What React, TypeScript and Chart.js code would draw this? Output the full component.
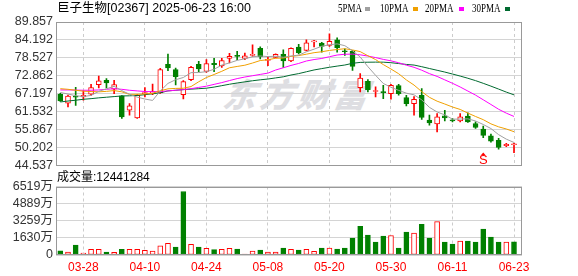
import React, { useEffect, useRef } from 'react';
import { Chart, registerables } from 'chart.js';
Chart.register(...registerables);

// ---------- data ----------
const dates = [
  '03-25', '03-26', '03-27', '03-28', '03-31', '04-01', '04-02', '04-03', '04-07', '04-08',
  '04-09', '04-10', '04-11', '04-14', '04-15', '04-16', '04-17', '04-22', '04-23', '04-24',
  '04-25', '04-28', '04-29', '04-30', '05-02', '05-06', '05-07', '05-08', '05-09', '05-12',
  '05-13', '05-14', '05-15', '05-16', '05-19', '05-20', '05-21', '05-22', '05-23', '05-26',
  '05-27', '05-28', '05-29', '05-30', '06-02', '06-03', '06-04', '06-05', '06-06', '06-09',
  '06-10', '06-11', '06-12', '06-13', '06-16', '06-17', '06-18', '06-19', '06-20', '06-23',
];
const dateLabelIndex = [3, 11, 19, 27, 35, 43, 51, 59];
const priceTicks = [44.537, 50.202, 55.867, 61.532, 67.197, 72.862, 78.527, 84.192, 89.857];

const opens = [
  67.04, 64.2, 66.4, 66.2, 67.04, 70.08, 71.45, 68.61, 66.51, 62.0,
  59.59, 67.25, 67.14, 67.46, 76.48, 74.8, 66.93, 71.66, 76.48, 74.28,
  76.8, 75.96, 78.37, 79.21, 78.37, 79.31, 81.52, 77.74, 78.68, 79.63,
  77.53, 81.9, 80.9, 83.6, 83.2, 82.46, 84.24, 80.68, 80.57, 69.14,
  71.13, 67.9, 67.77, 67.25, 69.77, 65.99, 64.1, 66.72, 58.86, 57.7,
  60.22, 58.96, 58.65, 60.11, 57.81, 56.02, 53.92, 52.45, 50.8, 51.1,
];
const highs = [
  67.3, 66.8, 69.2, 68.1, 70.2, 72.8, 72.0, 71.45, 66.6, 64.1,
  66.93, 69.14, 70.29, 75.22, 79.73, 75.33, 71.34, 75.85, 77.43, 77.95,
  78.37, 78.37, 80.0, 80.57, 80.05, 82.67, 82.04, 78.89, 79.84, 81.1,
  81.7, 82.8, 84.2, 84.1, 83.4, 86.13, 84.87, 81.41, 80.89, 73.54,
  71.65, 69.35, 69.87, 70.19, 70.19, 66.72, 66.3, 68.82, 60.43, 60.95,
  62.0, 59.38, 60.95, 61.16, 58.33, 56.97, 54.45, 53.08, 51.51, 51.5,
];
const lows = [
  64.8, 63.0, 63.5, 65.15, 66.7, 69.0, 69.0, 67.25, 59.38, 60.43,
  59.38, 66.2, 66.9, 67.3, 74.49, 69.98, 65.57, 71.34, 74.17, 73.96,
  74.17, 75.54, 76.9, 77.95, 77.95, 79.0, 78.16, 76.06, 78.5, 75.54,
  77.3, 79.8, 80.7, 82.0, 80.36, 82.15, 80.36, 79.31, 74.59, 67.77,
  67.77, 66.2, 65.67, 65.46, 66.72, 63.37, 60.4, 59.06, 57.28, 55.18,
  58.65, 58.33, 58.33, 58.12, 56.23, 53.29, 51.93, 49.73, 50.46, 48.6,
];
const closes = [
  64.94, 66.5, 66.1, 66.72, 69.14, 71.24, 70.6, 70.08, 59.9, 63.37,
  66.72, 67.56, 67.88, 74.8, 75.33, 72.6, 71.03, 75.54, 75.01, 76.69,
  76.38, 77.64, 78.99, 79.0, 79.21, 79.52, 78.89, 78.05, 79.63, 77.53,
  81.52, 80.2, 83.3, 83.85, 82.15, 83.72, 81.73, 80.47, 75.85, 72.18,
  68.51, 68.1, 67.56, 69.87, 67.25, 64.1, 65.46, 59.69, 58.02, 59.9,
  59.59, 58.65, 59.9, 58.33, 56.55, 54.03, 52.25, 50.25, 51.2, 51.3,
];

const ma5 = [
  67.6, 67.1, 66.6, 66.3, 66.68, 67.94, 68.76, 69.56, 68.19, 67.04,
  66.13, 65.53, 65.09, 68.07, 70.46, 71.63, 72.33, 73.86, 73.9, 74.17,
  74.93, 76.25, 76.94, 77.74, 78.24, 78.87, 79.12, 78.93, 79.06, 78.72,
  79.12, 79.39, 80.44, 81.28, 82.2, 82.64, 82.95, 82.38, 80.78, 78.79,
  75.75, 73.02, 70.44, 69.24, 68.26, 67.38, 66.85, 65.27, 62.9, 61.43,
  60.53, 59.17, 59.21, 59.27, 58.6, 57.49, 56.21, 54.28, 52.86, 51.81,
];
const ma10 = [
  68.8, 68.6, 68.3, 68.0, 67.9, 67.8, 67.95, 68.2, 67.8, 67.0,
  67.04, 67.14, 67.32, 68.13, 68.75, 68.88, 68.93, 69.47, 70.98, 72.32,
  73.28, 74.29, 75.4, 75.82, 76.21, 76.9, 77.69, 77.94, 78.4, 78.48,
  79.0, 79.25, 79.69, 80.17, 80.46, 80.88, 81.17, 81.41, 81.03, 80.5,
  79.2, 77.99, 76.41, 75.01, 73.52, 71.56, 69.94, 67.86, 66.07, 64.85,
  63.95, 63.01, 62.24, 61.09, 60.02, 59.01, 57.69, 56.75, 56.07, 55.21,
];
const ma20 = [
  68.4, 68.4, 68.35, 68.3, 68.3, 68.4, 68.6, 68.8, 68.6, 68.3,
  68.1, 67.9, 67.85, 67.9, 68.1, 68.3, 68.5, 68.8, 69.2, 69.59,
  70.16, 70.72, 71.36, 71.98, 72.48, 72.89, 73.31, 73.71, 74.69, 75.4,
  76.14, 76.77, 77.54, 78.0, 78.34, 78.89, 79.43, 79.67, 79.72, 79.49,
  79.1, 78.62, 78.05, 77.59, 76.99, 76.22, 75.55, 74.63, 73.55, 72.67,
  71.58, 70.5, 69.33, 68.05, 66.77, 65.29, 63.81, 62.3, 61.07, 60.03,
];
const ma30 = [
  64.6, 64.9, 65.15, 65.45, 65.65, 65.9, 66.1, 66.3, 66.5, 66.55,
  66.65, 66.9, 67.2, 67.5, 68.1, 68.3, 68.5, 68.65, 68.8, 68.95,
  69.3, 69.75, 70.2, 70.6, 70.95, 71.3, 71.6, 71.85, 72.2, 72.55,
  73.11, 73.56, 74.14, 74.71, 75.14, 75.56, 75.93, 76.27, 76.81, 77.1,
  77.16, 77.18, 77.17, 77.0, 76.73, 76.45, 76.26, 75.74, 75.17, 74.61,
  74.05, 73.42, 72.78, 72.09, 71.34, 70.49, 69.6, 68.67, 67.72, 66.85,
];

// volume in 万 (10,000 shares)
const volumes = [
  406, 283, 945, 189, 535, 535, 283, 252, 535, 535,
  535, 441, 378, 882, 1102, 756, 6047, 1008, 756, 630,
  504, 535, 630, 567, 94, 378, 472, 283, 283, 661,
  535, 472, 535, 346, 661, 661, 567, 661, 1606, 2740,
  1890, 1228, 1795, 1858, 661, 2173, 2079, 2929, 1606, 3181,
  1228, 1039, 1323, 1323, 1228, 2456, 1700, 1228, 1228, 1244.1284,
];
const volumeUp = [
  0, 1, 0, 1, 1, 1, 0, 1, 0, 1,
  1, 1, 1, 1, 1, 0, 0, 1, 0, 1,
  0, 1, 1, 0, 1, 1, 0, 1, 1, 0,
  1, 0, 1, 1, 0, 1, 0, 0, 0, 0,
  0, 0, 0, 1, 0, 0, 1, 0, 0, 1,
  0, 0, 1, 0, 0, 0, 0, 0, 1, 0,
];
const volumeTicks = [0, 1629.65, 3259.3, 4888.95, 6518.6];
const volumeMax = 6518.6;

const maLabels = ['5PMA', '10PMA', '20PMA', '30PMA'];
const stockTitle = '巨子生物[02367] 2025-06-23 16:00';
const volumeTitle = '成交量';
const sellSignalIndex = [55];
const watermarkText = '东方财富';

// ---------- styles ----------
const RED = '#ff0000';
const GREEN = '#008000';
const MA_COLORS = ['#a0a0a0', '#f0a000', '#ff00ff', '#006a30'];
const SANS = "'Liberation Sans', 'Noto Sans CJK SC', sans-serif";
const X_MIN = -0.56;
const X_MAX = 60.04;
const LEGEND_X = [338, 380, 425, 472];
const LEGEND_SQ_X = [365, 413, 459, 505];

const boxPlugin = {
  id: 'plotBox',
  afterDraw(chart: any) {
    const { ctx, chartArea: a } = chart;
    ctx.save();
    ctx.strokeStyle = '#999999';
    ctx.lineWidth = 1;
    const x0 = Math.round(a.left) + 0.5;
    const y0 = Math.round(a.top) + 0.5;
    const x1 = Math.round(a.right) - 0.5;
    const y1 = Math.round(a.bottom) - 0.5;
    ctx.strokeRect(x0, y0, x1 - x0, y1 - y0);
    ctx.restore();
  },
};

const signalPlugin = {
  id: 'sellSignals',
  afterDatasetsDraw(chart: any) {
    const { ctx, chartArea: a, scales } = chart;
    ctx.save();
    ctx.fillStyle = RED;
    sellSignalIndex.forEach((i) => {
      const px = scales.x.getPixelForValue(i);
      const tip = a.bottom - 13;
      ctx.beginPath();
      ctx.moveTo(px, tip);
      ctx.lineTo(px - 2.6, tip + 3);
      ctx.lineTo(px + 2.6, tip + 3);
      ctx.closePath();
      ctx.fill();
      ctx.font = `13px ${SANS}`;
      ctx.textAlign = 'center';
      ctx.textBaseline = 'middle';
      ctx.fillText('S', px, a.bottom - 5);
    });
    ctx.restore();
  },
};

export default function App() {
  const priceRef = useRef<HTMLCanvasElement>(null);
  const volRef = useRef<HTMLCanvasElement>(null);

  useEffect(() => {
    const idx = dates.map((_, i) => i);
    const up = idx.map((i) => closes[i] >= opens[i]);
    const xScaleBase = {
      type: 'linear' as const,
      min: X_MIN,
      max: X_MAX,
      offset: false,
      afterBuildTicks: (s: any) => {
        s.ticks = dateLabelIndex.map((v) => ({ value: v }));
      },
      grid: { color: '#cccccc', drawTicks: false, offset: false },
      border: { display: false, dash: [3, 3] },
    };

    const priceChart = new Chart(priceRef.current as HTMLCanvasElement, {
      type: 'bar',
      data: {
        datasets: [
          ...[ma5, ma10, ma20, ma30].map((s, k) => ({
            type: 'line' as const,
            label: maLabels[k],
            data: s.map((v, i) => ({ x: i, y: v })),
            borderColor: MA_COLORS[k],
            borderWidth: 1,
            pointRadius: 0,
            tension: 0,
            order: 0,
          })),
          {
            type: 'bar' as const,
            label: 'body',
            data: idx.map((i) => ({ x: i, y: [opens[i], closes[i]] })),
            backgroundColor: idx.map((i) => (up[i] ? '#ffffff' : GREEN)),
            borderColor: idx.map((i) => (up[i] ? RED : GREEN)),
            borderWidth: 1,
            borderSkipped: false,
            barThickness: 5,
            grouped: false,
            minBarLength: 1,
            order: 1,
          },
          {
            type: 'bar' as const,
            label: 'wick',
            data: idx.map((i) => ({ x: i, y: [lows[i], highs[i]] })),
            backgroundColor: idx.map((i) => (up[i] ? RED : GREEN)),
            borderWidth: 0,
            barThickness: 1,
            grouped: false,
            order: 2,
          },
        ] as any,
      },
      options: {
        responsive: false,
        animation: false,
        devicePixelRatio: 1,
        events: [],
        layout: { padding: { top: 22, right: 56, left: 0, bottom: 0 } },
        plugins: { legend: { display: false }, tooltip: { enabled: false } },
        scales: {
          x: {
            ...xScaleBase,
            ticks: { display: false },
            afterFit: (s: any) => {
              s.height = 10.5;
            },
          },
          y: {
            type: 'linear',
            min: priceTicks[0],
            max: priceTicks[priceTicks.length - 1],
            afterBuildTicks: (s: any) => {
              s.ticks = priceTicks.map((v) => ({ value: v }));
            },
            ticks: {
              color: '#333333',
              font: { family: SANS, size: 12.5 },
              padding: 3,
              autoSkip: false,
              callback: (v: any) => Number(v).toFixed(3),
            },
            grid: { color: '#d4d4d4', drawTicks: false },
            border: { display: false },
            afterFit: (s: any) => {
              s.width = 56;
            },
          },
        },
      } as any,
      plugins: [boxPlugin, signalPlugin],
    });

    const volChart = new Chart(volRef.current as HTMLCanvasElement, {
      type: 'bar',
      data: {
        datasets: [
          {
            label: 'volume',
            data: idx.map((i) => ({ x: i, y: volumes[i] })),
            backgroundColor: idx.map((i) => (volumeUp[i] ? '#ffffff' : GREEN)),
            borderColor: idx.map((i) => (volumeUp[i] ? RED : GREEN)),
            borderWidth: 1,
            borderSkipped: false,
            barThickness: 5,
            grouped: false,
            minBarLength: 1,
          },
        ] as any,
      },
      options: {
        responsive: false,
        animation: false,
        devicePixelRatio: 1,
        events: [],
        layout: { padding: { top: 10, right: 56, left: 0, bottom: 0 } },
        plugins: { legend: { display: false }, tooltip: { enabled: false } },
        scales: {
          x: {
            ...xScaleBase,
            ticks: {
              color: RED,
              font: { family: SANS, size: 12 },
              padding: 5,
              autoSkip: false,
              maxRotation: 0,
              callback: (v: any) => dates[Number(v)],
            },
            afterFit: (s: any) => {
              s.height = 21;
            },
          },
          y: {
            type: 'linear',
            min: 0,
            max: volumeMax,
            afterBuildTicks: (s: any) => {
              s.ticks = volumeTicks.map((v) => ({ value: v }));
            },
            ticks: {
              color: '#333333',
              font: { family: SANS, size: 12.5 },
              padding: 3,
              autoSkip: false,
              callback: (v: any) => (Number(v) === 0 ? '0' : `${Math.round(Number(v))}万`),
            },
            grid: { color: '#d4d4d4', drawTicks: false },
            border: { display: false },
            afterFit: (s: any) => {
              s.width = 56;
            },
          },
        },
      } as any,
      plugins: [boxPlugin],
    });

    return () => {
      priceChart.destroy();
      volChart.destroy();
    };
  }, []);

  const lastVolume = Math.round(volumes[volumes.length - 1] * 10000);

  return (
    <div
      style={{
        position: 'fixed',
        left: 0,
        top: 0,
        width: 578,
        height: 276,
        background: '#ffffff',
        overflow: 'hidden',
        fontFamily: SANS,
      }}
    >
      <div
        style={{
          position: 'absolute',
          left: 224,
          top: 77,
          fontSize: 33,
          lineHeight: '33px',
          fontWeight: 900,
          fontStyle: 'italic',
          letterSpacing: 4,
          color: '#dedee2',
          whiteSpace: 'nowrap',
          fontFamily: "'Noto Sans CJK SC', sans-serif",
          transform: 'skewX(-10deg)',
        }}
      >
        {watermarkText}
      </div>
      <canvas
        ref={priceRef}
        width={578}
        height={176}
        style={{ position: 'absolute', left: 0, top: 0 }}
      />
      <canvas
        ref={volRef}
        width={578}
        height={100}
        style={{ position: 'absolute', left: 0, top: 176 }}
      />
      <div
        style={{
          position: 'absolute',
          left: 57,
          top: 1,
          fontSize: 12.5,
          lineHeight: '15px',
          color: '#000',
          whiteSpace: 'nowrap',
        }}
      >
        {stockTitle}
      </div>
      {maLabels.map((l, k) => (
        <React.Fragment key={l}>
          <div
            style={{
              position: 'absolute',
              left: LEGEND_X[k],
              top: 2,
              fontSize: 12,
              lineHeight: '13px',
              fontFamily: "'Liberation Serif', serif",
              color: '#000',
              whiteSpace: 'nowrap',
              transform: 'scaleX(0.75)',
              transformOrigin: 'left center',
            }}
          >
            {l}
          </div>
          <div
            style={{
              position: 'absolute',
              left: LEGEND_SQ_X[k],
              top: 7,
              width: 5,
              height: 4,
              background: MA_COLORS[k],
            }}
          />
        </React.Fragment>
      ))}
      <div
        style={{
          position: 'absolute',
          left: 57,
          top: 170,
          fontSize: 12,
          lineHeight: '14px',
          color: '#000',
          whiteSpace: 'nowrap',
        }}
      >
        {`${volumeTitle}:${lastVolume}`}
      </div>
    </div>
  );
}
